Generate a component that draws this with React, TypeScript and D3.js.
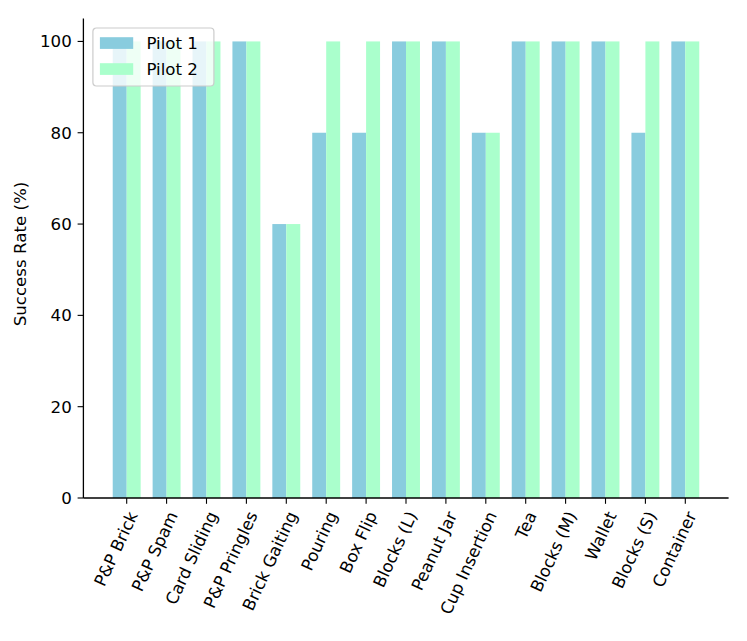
import * as d3 from "d3";
import { useEffect, useRef } from "react";

const tasks = [
  "P&P Brick",
  "P&P Spam",
  "Card Sliding",
  "P&P Pringles",
  "Brick Gaiting",
  "Pouring",
  "Box Flip",
  "Blocks (L)",
  "Peanut Jar",
  "Cup Insertion",
  "Tea",
  "Blocks (M)",
  "Wallet",
  "Blocks (S)",
  "Container",
];

const pilot1 = [100, 100, 100, 100, 60, 80, 80, 100, 100, 80, 100, 100, 100, 80, 100];
const pilot2 = [100, 100, 100, 100, 60, 100, 100, 100, 100, 80, 100, 100, 100, 100, 100];

const seriesNames = ["Pilot 1", "Pilot 2"];
const seriesColors = ["#89ccde", "#aaffcc"];
const yTicks = [0, 20, 40, 60, 80, 100];

const W = 747;
const H = 641;
const FONT = "'DejaVu Sans', sans-serif";
const FS = 16.67;

export default function App() {
  const svgRef = useRef<SVGSVGElement>(null);

  useEffect(() => {
    if (!svgRef.current) return;
    const svg = d3.select(svgRef.current);
    svg.selectAll("*").remove();

    const left = 83.4;
    const right = 728.6;
    const top = 18.6;
    const bottom = 498;
    const barW = 0.35;

    // category index units, like matplotlib's bar positions
    const x = d3.scaleLinear().domain([-1.085, tasks.length - 1 + 1.085]).range([left, right]);
    const y = d3.scaleLinear().domain([0, 105]).range([bottom, top]);

    const g = svg.append("g");

    const series = [pilot1, pilot2];
    series.forEach((vals, si) => {
      g.selectAll(`rect.s${si}`)
        .data(vals)
        .enter()
        .append("rect")
        .attr("x", (_d, i) => x(i + (si === 0 ? -barW : 0)))
        .attr("width", x(barW) - x(0))
        .attr("y", (d) => y(d))
        .attr("height", (d) => y(0) - y(d))
        .attr("fill", seriesColors[si]);
    });

    // spines
    g.append("line")
      .attr("x1", left).attr("x2", left)
      .attr("y1", top).attr("y2", bottom)
      .attr("stroke", "#000").attr("stroke-width", 1.3);
    g.append("line")
      .attr("x1", left).attr("x2", right)
      .attr("y1", bottom).attr("y2", bottom)
      .attr("stroke", "#000").attr("stroke-width", 1.3);

    // y ticks
    const yt = g.selectAll("g.yt").data(yTicks).enter().append("g")
      .attr("transform", (d) => `translate(${left},${y(d)})`);
    yt.append("line").attr("x1", -5.8).attr("x2", 0).attr("stroke", "#000").attr("stroke-width", 1.1);
    yt.append("text")
      .attr("x", -11.6)
      .attr("dy", "0.35em")
      .attr("text-anchor", "end")
      .attr("font-family", FONT)
      .attr("font-size", FS)
      .text((d) => d);

    // x ticks
    const xt = g.selectAll("g.xt").data(tasks).enter().append("g")
      .attr("transform", (_d, i) => `translate(${x(i)},${bottom})`);
    xt.append("line").attr("y1", 0).attr("y2", 5.8).attr("stroke", "#000").attr("stroke-width", 1.1);
    xt.append("text")
      .attr("transform", "translate(0,11.6) rotate(-65)")
      .attr("dy", "0.76em")
      .attr("text-anchor", "end")
      .attr("font-family", FONT)
      .attr("font-size", FS)
      .text((d) => d);

    // y label
    g.append("text")
      .attr("transform", `translate(20,254) rotate(-90)`)
      .attr("dy", "0.35em")
      .attr("text-anchor", "middle")
      .attr("font-family", FONT)
      .attr("font-size", FS)
      .text("Success Rate (%)");

    // legend
    const lg = g.append("g").attr("transform", `translate(${left + 9.5},${top + 9.4})`);
    lg.append("rect")
      .attr("width", 121)
      .attr("height", 58)
      .attr("rx", 3.5)
      .attr("fill", "#fff")
      .attr("fill-opacity", 0.8)
      .attr("stroke", "#cccccc")
      .attr("stroke-width", 1.2);
    seriesNames.forEach((name, i) => {
      const cy = 15 + i * 26;
      lg.append("rect")
        .attr("x", 7)
        .attr("y", cy - 5.8)
        .attr("width", 33.3)
        .attr("height", 11.7)
        .attr("fill", seriesColors[i]);
      lg.append("text")
        .attr("x", 53.5)
        .attr("y", cy)
        .attr("dy", "0.36em")
        .attr("font-family", FONT)
        .attr("font-size", FS)
        .text(name);
    });
  }, []);

  return (
    <div style={{ position: "absolute", left: 0, top: 0, background: "#fff" }}>
      <svg ref={svgRef} width={W} height={H} style={{ display: "block" }} />
    </div>
  );
}
